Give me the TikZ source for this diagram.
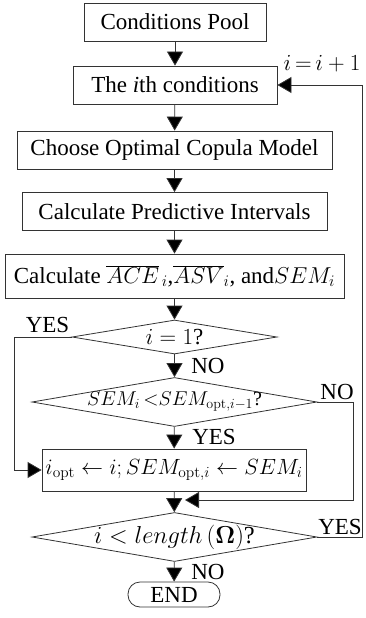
\RequirePackage{fix-cm}
\documentclass[tikz,border=0pt]{standalone}
\usepackage[no-math]{fontspec}
\setmainfont{Liberation Serif}
\usetikzlibrary{arrows.meta,shapes.geometric}
\begin{document}
\begin{tikzpicture}[x=1pt,y=-1pt,
  font=\fontsize{23}{27}\selectfont,
  stepbox/.style={draw=black!80, line width=0.8pt, rectangle, inner sep=0pt, minimum height=38pt},
  decision/.style={draw=black!80, line width=0.8pt, diamond, inner sep=0pt},
  endbox/.style={draw=black!80, line width=0.8pt, rectangle, rounded corners=12pt, inner sep=0pt, minimum width=92pt, minimum height=25pt},
  arr/.style={draw=black!80, line width=0.8pt, -{Triangle[length=14pt,width=16pt,fill=black]}},
  lbl/.style={inner sep=0pt}
]
\useasboundingbox (0,0) rectangle (365,618);

\node[stepbox, minimum width=182pt] (pool) at (175,22) {Conditions Pool};
\node[stepbox, minimum width=204pt] (ith) at (175,85) {The \textit{i}th conditions};
\node[stepbox, minimum width=315pt] (choose) at (174.5,150) {Choose Optimal Copula Model};
\node[stepbox, minimum width=305pt] (calcpi) at (174.5,211.5) {Calculate Predictive Intervals};
\node[stepbox, minimum width=339pt, minimum height=44pt] (calcsem) at (174.5,276)
  {Calculate $\overline{ACE}_{\,i}$,$\overline{ASV}_{i}$, and$SEM_i$};
\node[decision, minimum width=205pt, minimum height=34pt, label=center:{$i=1$?}] (d1) at (174.5,337) {};
\node[decision, minimum width=285pt, minimum height=49pt,
  label={[font=\fontsize{20}{24}\selectfont]center:{$SEM_i\,{<}SEM_{\mathrm{opt},i-1}$?}}] (d2) at (174.5,402) {};
\node[stepbox, minimum width=264pt, minimum height=42pt, font=\fontsize{22}{26}\selectfont] (upd) at (174,470)
  {$i_{\mathrm{opt}}\leftarrow i; SEM_{\mathrm{opt},i}\leftarrow SEM_i$};
\node[decision, minimum width=285pt, minimum height=49pt,
  label={[font=\fontsize{24.5}{28}\selectfont]center:{$i<length\,(\mathbf{\Omega})$?}}] (d3) at (174.5,537) {};
\node[endbox] (end) at (174,594.5) {END};

\draw[arr] (pool) -- (ith);
\draw[arr] (ith) -- (choose);
\draw[arr] (choose) -- (calcpi);
\draw[arr] (calcpi) -- (calcsem);
\draw[arr] (calcsem) -- (d1);
\draw[arr] (d1) -- (d2);
\draw[arr] (d2) -- (upd);
\draw[arr] (upd) -- (d3);
\draw[arr] (d3) -- (end);

\coordinate (yl) at (14,337);
\draw[arr] (d1.west) -- (yl) |- (upd.west);
\coordinate (nr) at (353,402);
\coordinate (mg) at (185,500);
\draw[arr] (d2.east) -- (nr) |- (mg);
\coordinate (lr) at (362,537);
\draw[arr] (d3.east) -- (lr) |- (ith.east);

\node[lbl] (l1) at (47.5,325) {YES};
\node[lbl] (l2) at (208,366) {NO};
\node[lbl] (l3) at (337,392) {NO};
\node[lbl] (l4) at (214,437) {YES};
\node[lbl] (l5) at (340,527) {YES};
\node[lbl] (l6) at (208,572) {NO};
\node[lbl] (l7) at (322,64) {$i\,{=}\,i+1$};
\end{tikzpicture}
\end{document}
